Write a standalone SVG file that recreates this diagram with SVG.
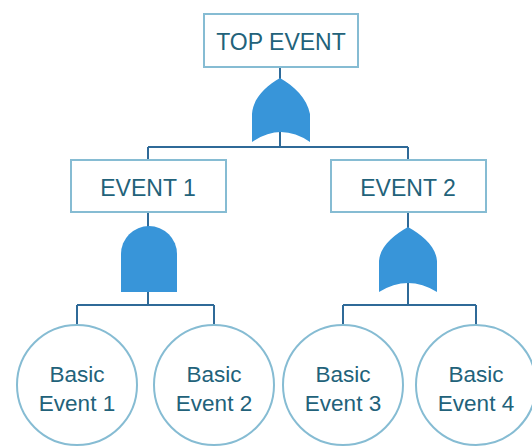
<svg xmlns="http://www.w3.org/2000/svg" width="532" height="448" viewBox="0 0 532 448">
  <style>
    .box { fill: #ffffff; stroke: #86bcd3; stroke-width: 2; }
    .basic { fill: #ffffff; stroke: #86bcd3; stroke-width: 2; }
    .gate { fill: #3895d9; stroke: none; }
    .wire { fill: none; stroke: #2f6a98; stroke-width: 2; }
    .lbl { font-family: "Liberation Sans", Arial, sans-serif; font-size: 23px; fill: #22627a; text-anchor: middle; }
    .blbl { font-family: "Liberation Sans", Arial, sans-serif; font-size: 22.5px; fill: #22627a; text-anchor: middle; }
  </style>
  <rect width="532" height="448" fill="#ffffff"/>

  <!-- connectors -->
  <g id="connectors">
    <path class="wire" d="M280,67 V147 M148,147 H408 M148,147 V160 M408,147 V160"/>
    <path class="wire" d="M148,212 V305 M77,305 H214 M77,305 V325 M214,305 V325"/>
    <path class="wire" d="M408,212 V305 M343,305 H476 M343,305 V325 M476,305 V325"/>
  </g>

  <!-- gates -->
  <g id="gate-top-or">
    <path class="gate" d="M280,78 C266,86 253,98 252,114 L252,142 Q281,122 310,142 L310,114 C307,98 294,86 280,78 Z"/>
  </g>
  <g id="gate-event1-and">
    <path class="gate" d="M121,292 L121,254 A28,28 0 0 1 177,254 L177,292 Z"/>
  </g>
  <g id="gate-event2-or">
    <path class="gate" d="M408,227 C394,235 380,246 379,261 L379,292 Q408,274 437,292 L437,261 C436,246 422,235 408,227 Z"/>
  </g>

  <!-- events -->
  <g id="top-event">
    <rect class="box" x="204" y="14" width="154" height="53"/>
    <text class="lbl" x="281" y="50">TOP EVENT</text>
  </g>
  <g id="event-1">
    <rect class="box" x="71" y="160" width="155" height="52"/>
    <text class="lbl" x="148" y="196">EVENT 1</text>
  </g>
  <g id="event-2">
    <rect class="box" x="331" y="160" width="155" height="52"/>
    <text class="lbl" x="408" y="196">EVENT 2</text>
  </g>

  <!-- basic events -->
  <g id="basic-1">
    <circle class="basic" cx="77" cy="385" r="60"/>
    <text class="blbl" x="77" y="382">Basic</text>
    <text class="blbl" x="77" y="411">Event 1</text>
  </g>
  <g id="basic-2">
    <circle class="basic" cx="214" cy="385" r="60"/>
    <text class="blbl" x="214" y="382">Basic</text>
    <text class="blbl" x="214" y="411">Event 2</text>
  </g>
  <g id="basic-3">
    <circle class="basic" cx="343" cy="385" r="60"/>
    <text class="blbl" x="343" y="382">Basic</text>
    <text class="blbl" x="343" y="411">Event 3</text>
  </g>
  <g id="basic-4">
    <circle class="basic" cx="476" cy="385" r="60"/>
    <text class="blbl" x="476" y="382">Basic</text>
    <text class="blbl" x="476" y="411">Event 4</text>
  </g>
</svg>
